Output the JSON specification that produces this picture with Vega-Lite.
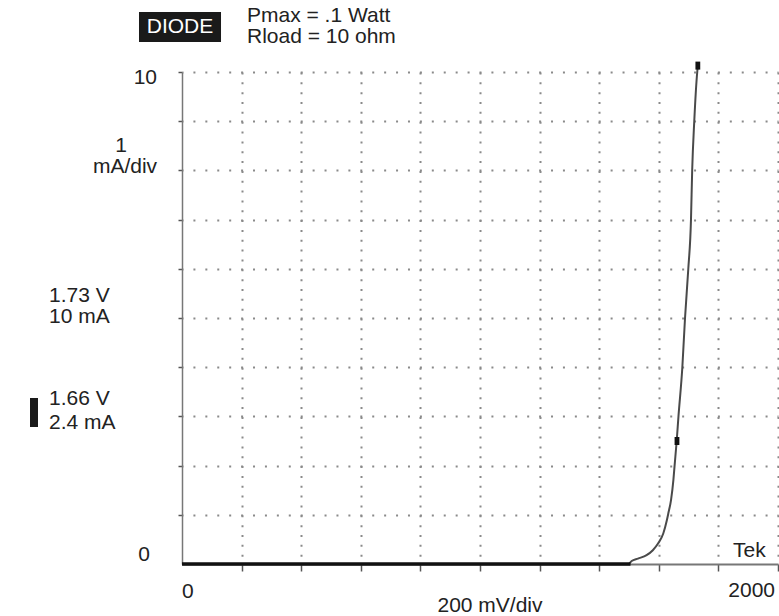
{
  "$schema": "https://vega.github.io/schema/vega-lite/v6.json",
  "width": 596,
  "height": 492,
  "autosize": {"type": "none"},
  "padding": {"left": 182, "top": 72, "right": 1, "bottom": 52},
  "background": "white",
  "config": {
    "view": {"stroke": null},
    "text": {"font": "Liberation Sans", "fontSize": 21, "color": "#222", "baseline": "middle"}
  },
  "datasets": {
    "curve": [
      {"mV": 1500, "mA": 0}, {"mV": 1509, "mA": 0.06}, {"mV": 1530, "mA": 0.11}, {"mV": 1559, "mA": 0.18},
      {"mV": 1580, "mA": 0.28}, {"mV": 1598, "mA": 0.42}, {"mV": 1615, "mA": 0.62}, {"mV": 1627, "mA": 0.89},
      {"mV": 1632, "mA": 1.03}, {"mV": 1641, "mA": 1.3}, {"mV": 1649, "mA": 1.71}, {"mV": 1653, "mA": 2.0},
      {"mV": 1660, "mA": 2.5}, {"mV": 1666, "mA": 3.0}, {"mV": 1679, "mA": 4.0}, {"mV": 1688, "mA": 5.0},
      {"mV": 1699, "mA": 6.0}, {"mV": 1708, "mA": 7.0}, {"mV": 1712, "mA": 8.0}, {"mV": 1719, "mA": 9.0},
      {"mV": 1729, "mA": 10.0}, {"mV": 1731, "mA": 10.12}
    ],
    "flat": [{"mV": 0, "mA": 0}, {"mV": 1505, "mA": 0}],
    "markers": [{"mV": 1661, "mA": 2.5}, {"mV": 1731, "mA": 10.13}],
    "labelsLeft": [
      {"mV": -446.3, "mA": 5.447, "t": "1.73 V"},
      {"mV": -446.3, "mA": 5.02, "t": "10 mA"},
      {"mV": -446.3, "mA": 3.354, "t": "1.66 V"},
      {"mV": -446.3, "mA": 2.876, "t": "2.4 mA"},
      {"mV": 218.1, "mA": 11.148, "t": "Pmax = .1 Watt"},
      {"mV": 218.1, "mA": 10.711, "t": "Rload = 10 ohm"},
      {"mV": 1849, "mA": 0.264, "t": "Tek"},
      {"mV": 0, "mA": -0.569, "t": "0"}
    ],
    "labelsRight": [
      {"mV": -83.9, "mA": 9.888, "t": "10"},
      {"mV": -107.4, "mA": 0.183, "t": "0"},
      {"mV": 1990, "mA": -0.549, "t": "2000"}
    ],
    "labelsCenter": [
      {"mV": -204.7, "mA": 8.496, "t": "1"},
      {"mV": -191.3, "mA": 8.069, "t": "mA/div"},
      {"mV": 1033.6, "mA": -0.854, "t": "200 mV/div"}
    ],
    "boxes": [
      {"mV": -144.3, "mV2": 130.9, "mA": 11.22, "mA2": 10.61},
      {"mV": -510.1, "mV2": -483.2, "mA": 3.374, "mA2": 2.785}
    ],
    "boxText": [{"mV": -6.7, "mA": 10.915, "t": "DIODE"}]
  },
  "encoding": {
    "x": {"field": "mV", "type": "quantitative", "scale": {"domain": [0, 2000], "nice": false, "zero": false},
      "axis": {"values": [200, 400, 600, 800, 1000, 1200, 1400, 1600, 1800, 2000], "labels": false, "title": null,
        "domainColor": "#777", "domainWidth": 2, "tickColor": "#555", "tickSize": 7, "tickWidth": 1.5,
        "grid": true, "gridColor": "#8a8a8a", "gridWidth": 2, "gridDash": [2, 7.84]}},
    "y": {"field": "mA", "type": "quantitative", "scale": {"domain": [0, 10], "nice": false, "zero": false},
      "axis": {"values": [1, 2, 3, 4, 5, 6, 7, 8, 9, 10], "labels": false, "title": null,
        "domainColor": "#777", "domainWidth": 1.5, "tickColor": "#555", "tickSize": 4, "tickWidth": 1.5,
        "grid": true, "gridColor": "#8a8a8a", "gridWidth": 2, "gridDash": [2, 9.92], "gridDashOffset": 1}}
  },
  "layer": [
    {
      "data": {"name": "curve"},
      "mark": {"type": "line", "color": "#4a4a4a", "strokeWidth": 2, "interpolate": "monotone"}
    },
    {
      "data": {"name": "flat"},
      "mark": {"type": "line", "color": "#111", "strokeWidth": 3.5}
    },
    {
      "data": {"name": "markers"},
      "mark": {"type": "point", "shape": "M-0.6,-1H0.6V1H-0.6Z", "size": 64, "filled": true, "color": "#111", "opacity": 1}
    },
    {
      "data": {"name": "boxes"},
      "mark": {"type": "rect", "color": "#1a1a1a"},
      "encoding": {"x2": {"field": "mV2"}, "y2": {"field": "mA2"}}
    },
    {
      "data": {"name": "boxText"},
      "mark": {"type": "text", "align": "center", "color": "white"},
      "encoding": {"text": {"field": "t"}}
    },
    {
      "data": {"name": "labelsLeft"},
      "mark": {"type": "text", "align": "left"},
      "encoding": {"text": {"field": "t"}}
    },
    {
      "data": {"name": "labelsRight"},
      "mark": {"type": "text", "align": "right"},
      "encoding": {"text": {"field": "t"}}
    },
    {
      "data": {"name": "labelsCenter"},
      "mark": {"type": "text", "align": "center"},
      "encoding": {"text": {"field": "t"}}
    }
  ]
}
